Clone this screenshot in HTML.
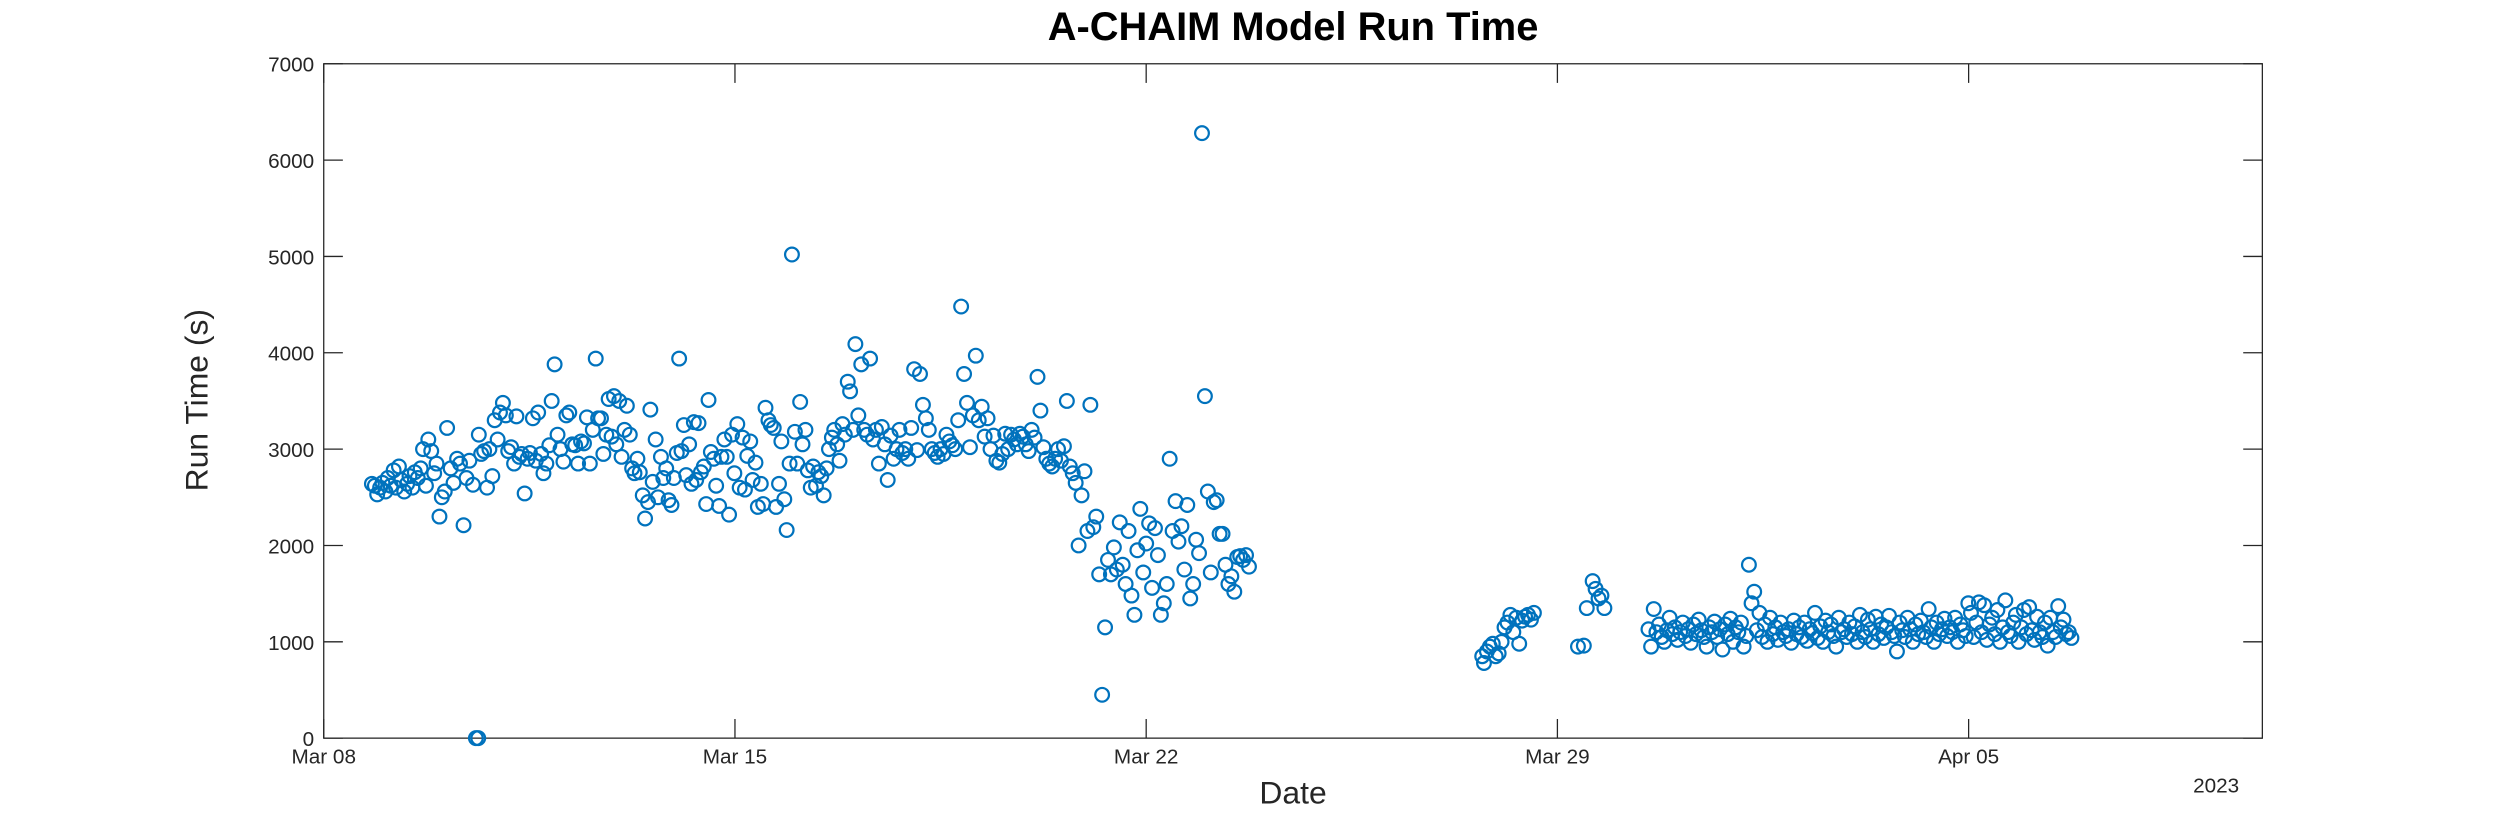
<!DOCTYPE html>
<html><head><meta charset="utf-8"><style>
html,body{margin:0;padding:0;background:#fff;}
svg{display:block;font-family:"Liberation Sans","DejaVu Sans",sans-serif;}
</style></head><body>
<svg id="chart" width="2500" height="833" viewBox="0 0 1568 522.5" xmlns="http://www.w3.org/2000/svg">
<rect width="1568" height="522.5" fill="#fff"/>
<text x="811" y="25" text-anchor="middle" font-size="25" font-weight="bold" fill="#000">A-CHAIM Model Run Time</text>
<g id="axes"></g>
<g id="points"></g>
<text x="811" y="504" text-anchor="middle" font-size="20" fill="#262626">Date</text>
<text transform="translate(130,251) rotate(-90)" text-anchor="middle" font-size="20" fill="#262626">Run Time (s)</text>
<text x="1390" y="497" text-anchor="middle" font-size="13" fill="#262626">2023</text>
</svg>
<script>
const xTickLabels = ["Mar 08","Mar 15","Mar 22","Mar 29","Apr 05"];
const xTickDays = [0,7,14,21,28];
const yTicks = [0,1000,2000,3000,4000,5000,6000,7000];
const seg1Days = [0.82,0.87,0.91,0.96,1.0,1.05,1.09,1.14,1.19,1.23,1.28,1.32,1.37,1.42,1.46,1.51,1.55,1.6,1.65,1.69,1.74,1.78,1.83,1.88,1.92,1.97,2.01,2.06,2.1,2.16,2.21,2.27,2.32,2.38,2.43,2.48,2.54,2.59,2.63,2.64,2.68,2.73,2.78,2.82,2.87,2.91,2.96,3.0,3.05,3.1,3.14,3.19,3.24,3.28,3.33,3.37,3.42,3.47,3.51,3.56,3.61,3.65,3.7,3.74,3.79,3.84,3.88,3.93,3.98,4.03,4.08,4.13,4.18,4.23,4.28,4.33,4.38,4.43,4.48,4.53,4.58,4.63,4.67,4.72,4.76,4.81,4.85,4.9,4.94,4.98,5.03,5.07,5.12,5.16,5.21,5.25,5.29,5.34,5.38,5.43,5.47,5.52,5.56,5.6,5.65,5.69,5.74,5.78,5.83,5.87,5.92,5.96,6.01,6.05,6.09,6.13,6.17,6.22,6.26,6.3,6.34,6.38,6.42,6.47,6.51,6.55,6.59,6.64,6.68,6.73,6.77,6.82,6.86,6.9,6.95,6.99,7.04,7.08,7.13,7.17,7.21,7.26,7.3,7.35,7.39,7.44,7.48,7.52,7.57,7.61,7.66,7.7,7.75,7.79,7.84,7.88,7.93,7.97,8.02,8.06,8.11,8.15,8.2,8.24,8.29,8.33,8.38,8.42,8.47,8.51,8.56,8.6,8.65,8.69,8.74,8.78,8.83,8.87,8.92,8.96,9.01,9.05,9.1,9.15,9.2,9.25,9.3,9.35,9.4,9.45,9.5,9.55,9.6,9.65,9.7,9.75,9.8,9.85,9.9,9.95,10.0,10.05,10.1,10.15,10.2,10.25,10.3,10.35,10.4,10.45,10.5,10.55,10.6,10.65,10.7,10.75,10.8,10.85,10.9,10.95,11.0,11.05,11.1,11.15,11.2,11.25,11.3,11.35,11.4,11.45,11.5,11.55,11.6,11.65,11.7,11.75,11.8,11.85,11.9,11.95,12.0,12.05,12.1,12.15,12.2,12.25,12.3,12.35,12.4,12.45,12.5,12.55,12.6,12.65,12.7,12.75,12.8,12.85,12.9,12.95,13.0,13.05,13.1,13.15,13.2,13.3,13.25,13.35,13.4,13.45,13.5,13.55,13.6,13.65,13.7,13.75,13.8,13.85,13.9,13.95,14.0,14.05,14.1,14.15,14.2,14.25,14.3,14.35,14.4,14.45,14.5,14.55,14.6,14.65,14.7,14.75,14.8,14.85,14.9,14.95,15.0,15.05,15.1,15.15,15.2,15.25,15.3,15.35,15.4,15.45,15.5,15.55,15.6,15.65,15.7,15.75];
const seg1Vals = [2640,2620,2530,2600,2650,2560,2700,2620,2780,2600,2820,2680,2560,2640,2720,2600,2760,2700,2800,3000,2620,3100,2980,2750,2850,2300,2500,2560,3220,2800,2650,2900,2850,2210,2700,2880,2630,0,0,3150,2950,2980,2600,3000,2720,3300,3100,3380,3480,3350,2980,3020,2850,3340,2920,2950,2540,2900,2960,3320,2880,3380,2950,2750,2850,3040,3500,3880,3150,3000,2870,3350,3380,3050,3040,2850,3080,3060,3330,2850,3200,3940,3320,3320,2950,3150,3520,3130,3550,3050,3500,2920,3200,3450,3150,2800,2750,2900,2760,2520,2280,2450,3410,2660,3100,2500,2920,2700,2800,2470,2420,2700,2960,3940,2980,3250,2730,3050,2640,3280,2680,3270,2760,2820,2430,3510,2970,2900,2620,2410,2920,3100,2920,2320,3150,2750,3260,2600,3120,2580,2930,3080,2680,2860,2400,2640,2430,3430,3300,3250,3220,2400,2640,3080,2480,2160,2850,5020,3180,2850,3490,3050,3200,2780,2600,2820,2620,2760,2720,2520,2800,3000,3120,3200,3050,2880,3260,3150,3700,3600,3200,4090,3350,3880,3200,3150,3940,3100,3200,2850,3230,3050,2680,3140,2900,3000,3200,2960,3000,2900,3220,3830,2990,3780,3460,3320,3200,3000,2960,2920,3000,2950,3150,3080,3040,3000,3300,4480,3780,3480,3020,3350,3970,3300,3440,3130,3320,3000,3140,2880,2860,2950,3160,3000,3150,3100,3050,3160,3130,3050,2980,3200,3120,3750,3400,3020,2900,2850,2820,2900,3000,2880,3030,3500,2820,2750,2650,2000,2520,2770,2150,3460,2190,2300,1700,1150,450,1850,1700,1980,1750,2240,1800,1600,2150,1480,1280,1950,2380,1720,2020,2230,1560,2180,1900,1280,1400,1600,2900,2150,2460,2040,2200,1750,2420,1450,1600,2060,1920,6280,3550,2560,1720,2450,2470,2120,2120,1800,1600,1680,1520,1880,1890,1850,1900,1780];
const seg2Days = [19.72,19.75,19.8,19.85,19.9,19.95,20.0,20.05,20.1,20.15,20.2,20.25,20.3,20.35,20.4,20.45,20.5,20.55,20.6,21.35,21.45,21.5,21.6,21.65,21.7,21.75,21.8];
const seg2Vals = [850,780,900,950,980,850,880,1000,1150,1200,1280,1100,1250,980,1220,1260,1280,1230,1300,950,960,1350,1630,1550,1450,1480,1350];
const seg4Start = 22.55;
const seg4Step = 0.045;
const seg4Vals = [1130,950,1340,1100,1180,1050,1000,1120,1250,1080,1150,1020,1100,1200,1060,1130,990,1180,1080,1230,1120,1050,950,1150,1100,1210,1050,1130,920,1180,1080,1240,1000,1150,1100,1200,950,1060,1800,1400,1520,1120,1300,1050,1180,1000,1250,1080,1150,1020,1200,1100,1060,1130,990,1220,1080,1150,1050,1200,1010,1130,1090,1300,1040,1160,1000,1220,1100,1180,1060,950,1250,1100,1130,1050,1200,1080,1160,1000,1280,1100,1050,1230,1130,1000,1260,1080,1180,1040,1150,1270,1100,1060,900,1200,1120,1050,1250,1130,1000,1180,1080,1220,1100,1050,1340,1150,1000,1200,1080,1130,1240,1060,1150,1100,1250,1000,1180,1120,1060,1400,1300,1050,1200,1410,1100,1380,1020,1180,1250,1080,1330,1000,1150,1430,1100,1060,1200,1280,1000,1150,1330,1080,1360,1120,1020,1260,1100,1050,1200,960,1250,1100,1050,1370,1150,1230,1080,1100,1040];

const L=203,R=1419,T=40,B=463;
const xScale = d => L + d*(R-L)/33;
const yScale = v => B - v*(B-T)/7000;
const NS="http://www.w3.org/2000/svg";
const axes=document.getElementById('axes');
function mk(tag,attrs,parent){const e=document.createElementNS(NS,tag);for(const k in attrs)e.setAttribute(k,attrs[k]);parent.appendChild(e);return e;}
const box=mk('rect',{x:L,y:T,width:R-L,height:B-T,fill:'none',stroke:'#262626','stroke-width':0.8},axes);


xTickDays.forEach((d,i)=>{
  const x=xScale(d);
  mk('line',{x1:x,x2:x,y1:B,y2:B-12,stroke:'#262626','stroke-width':0.8},axes);
  mk('line',{x1:x,x2:x,y1:T,y2:T+12,stroke:'#262626','stroke-width':0.8},axes);
  const t=mk('text',{x:x,y:B+16,'text-anchor':'middle','font-size':13,fill:'#262626'},axes);
  t.textContent=xTickLabels[i];
  
  
});
yTicks.forEach(v=>{
  const y=yScale(v);
  mk('line',{x1:L,x2:L+12,y1:y,y2:y,stroke:'#262626','stroke-width':0.8},axes);
  mk('line',{x1:R,x2:R-12,y1:y,y2:y,stroke:'#262626','stroke-width':0.8},axes);
  const t=mk('text',{x:L-6,y:y+5,'text-anchor':'end','font-size':13,fill:'#262626'},axes);
  t.textContent=v;
  
  
});
const pts=document.getElementById('points');
function dot(d,v){
  const c=mk('circle',{cx:xScale(d),cy:yScale(v),r:4.3,fill:'none',stroke:'#0072BD','stroke-width':1.4},pts);
  
  
}
seg1Days.forEach((d,i)=>dot(d,seg1Vals[i]));
seg2Days.forEach((d,i)=>dot(d,seg2Vals[i]));
seg4Vals.forEach((v,i)=>dot(seg4Start+i*seg4Step,v));
</script>
</body></html>
